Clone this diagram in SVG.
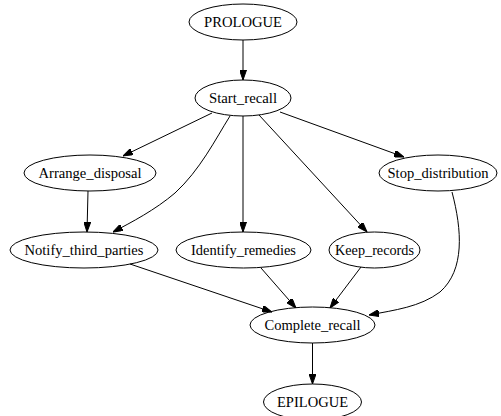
<svg xmlns="http://www.w3.org/2000/svg" width="501" height="416" viewBox="0 0 501 416">
<style>
.n ellipse{fill:none;stroke:#000;stroke-width:1}
.n text{font-family:"Liberation Serif","DejaVu Serif","Noto Serif",serif;font-size:14px;text-anchor:middle;fill:#000}
.e path{fill:none;stroke:#000;stroke-width:1;marker-end:url(#ah)}
</style>
<defs>
<marker id="ah" markerUnits="userSpaceOnUse" markerWidth="10" markerHeight="7" refX="10" refY="3.5" orient="auto">
<path d="M0,0 L10,3.5 L0,7 z" fill="#000" stroke="#000" stroke-width="1"/>
</marker>
</defs>
<rect width="501" height="416" fill="#fff"/>
<g id="edges" class="e">
<path d="M243,40 L243,80"/>
<path d="M212,113 L123,156"/>
<path d="M230,116 C215,140 200,170 175,193 C155,210 132,222 113,232"/>
<path d="M243,116 L243,232"/>
<path d="M259,115 L367,232"/>
<path d="M280,112 L404,157"/>
<path d="M88,191 L87,232"/>
<path d="M452,192 C462,230 465,270 440,292 C420,307 395,310 369,315"/>
<path d="M130,264 L272,312"/>
<path d="M261,268 L296,308"/>
<path d="M361,267 L330,308"/>
<path d="M312.5,343 L312.5,384"/>
</g>
<g id="PROLOGUE" class="n"><ellipse cx="243" cy="22" rx="54" ry="18"/><text x="243" y="26.5" textLength="78" lengthAdjust="spacingAndGlyphs">PROLOGUE</text></g>
<g id="Start_recall" class="n"><ellipse cx="243" cy="98" rx="48" ry="18"/><text x="243" y="102.5" textLength="68" lengthAdjust="spacingAndGlyphs">Start_recall</text></g>
<g id="Arrange_disposal" class="n"><ellipse cx="90" cy="173" rx="66" ry="18"/><text x="90" y="177.5" textLength="103" lengthAdjust="spacingAndGlyphs">Arrange_disposal</text></g>
<g id="Stop_distribution" class="n"><ellipse cx="438" cy="173" rx="59" ry="18"/><text x="438" y="177.5" textLength="101" lengthAdjust="spacingAndGlyphs">Stop_distribution</text></g>
<g id="Notify_third_parties" class="n"><ellipse cx="84" cy="250" rx="74" ry="18"/><text x="84" y="254.5" textLength="119" lengthAdjust="spacingAndGlyphs">Notify_third_parties</text></g>
<g id="Identify_remedies" class="n"><ellipse cx="243.5" cy="250" rx="67.5" ry="18"/><text x="243.5" y="254.5" textLength="105" lengthAdjust="spacingAndGlyphs">Identify_remedies</text></g>
<g id="Keep_records" class="n"><ellipse cx="374.5" cy="250" rx="45.5" ry="18"/><text x="374.5" y="254.5" textLength="79" lengthAdjust="spacingAndGlyphs">Keep_records</text></g>
<g id="Complete_recall" class="n"><ellipse cx="312.5" cy="325" rx="62.5" ry="18"/><text x="312.5" y="329.5" textLength="96" lengthAdjust="spacingAndGlyphs">Complete_recall</text></g>
<g id="EPILOGUE" class="n"><ellipse cx="312.5" cy="402" rx="49" ry="18"/><text x="312.5" y="406.5" textLength="71" lengthAdjust="spacingAndGlyphs">EPILOGUE</text></g>
</svg>
